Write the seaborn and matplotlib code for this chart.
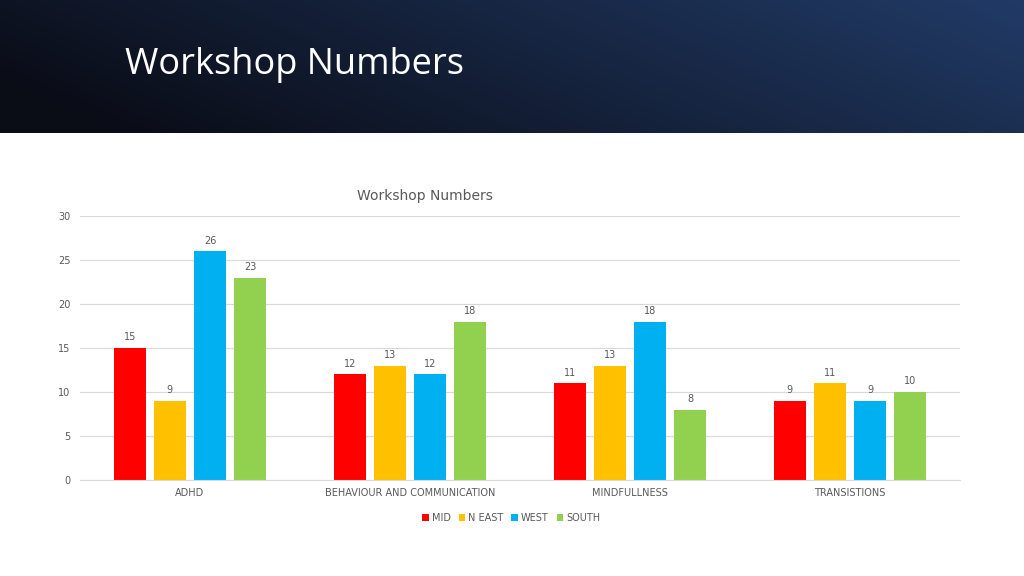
import numpy as np
import pandas as pd
import matplotlib
matplotlib.use("Agg")
import matplotlib.pyplot as plt
import seaborn as sns

categories = ["ADHD", "BEHAVIOUR AND COMMUNICATION", "MINDFULLNESS", "TRANSISTIONS"]
series = ["MID", "N EAST", "WEST", "SOUTH"]
mid = [15, 12, 11, 9]
neast = [9, 13, 13, 11]
west = [26, 12, 18, 9]
south = [23, 18, 8, 10]
colors = ["#FF0000", "#FFC000", "#00B0F0", "#92D050"]

rows = []
for s, vals in zip(series, [mid, neast, west, south]):
    for c, v in zip(categories, vals):
        rows.append({"cat": c, "series": s, "val": v})
df = pd.DataFrame(rows)

fig = plt.figure(figsize=(10.24, 5.76), dpi=100)
fig.patch.set_facecolor("white")

hax = fig.add_axes([0, 1 - 133/576, 1, 133/576])
x = np.linspace(0, 1, 256)
y = np.linspace(0, 1, 64)
X, Y = np.meshgrid(x, y)
t = np.clip(0.15 + 0.85 * X - 0.25 * Y, 0, 1)
c0 = np.array([0.04, 0.05, 0.09]); c1 = np.array([0.13, 0.23, 0.40])
img = c0[None, None, :] * (1 - t[..., None]) + c1[None, None, :] * t[..., None]
hax.imshow(img, aspect="auto", extent=[0, 1, 0, 1])
hax.axis("off")
fig.text(125/1024, 1 - 65/576, "Workshop Numbers", color="white", fontsize=26,
         va="center", ha="left", family="Open Sans")

ax = fig.add_axes([80/1024, 96/576, 880/1024, 264/576])
sns.barplot(data=df, x="cat", y="val", hue="series", palette=colors,
            width=0.73, gap=0.2, ax=ax, saturation=1, legend=True)
for cont in ax.containers:
    ax.bar_label(cont, fontsize=7, color="#595959", padding=4)
ax.set_ylim(0, 30)
ax.set_yticks(range(0, 31, 5))
ax.grid(axis="y", color="#D9D9D9", linewidth=0.8)
ax.set_axisbelow(True)
for s in ["top", "right", "left"]:
    ax.spines[s].set_visible(False)
ax.spines["bottom"].set_color("#D9D9D9")
ax.tick_params(axis="both", length=0, labelsize=7, labelcolor="#595959", pad=7)
ax.tick_params(axis="x", pad=6)
ax.set_xlabel(""); ax.set_ylabel("")
fig.text(425/1024, 1 - 196/576, "Workshop Numbers", fontsize=10, color="#595959",
         ha="center", va="center")
ax.legend(loc="upper center", bbox_to_anchor=(0.49, -0.09), ncol=4, frameon=False,
          fontsize=7, labelcolor="#595959", handlelength=0.7, handleheight=0.7,
          handletextpad=0.3, columnspacing=0.8)

fig.savefig("out.png", dpi=100)
